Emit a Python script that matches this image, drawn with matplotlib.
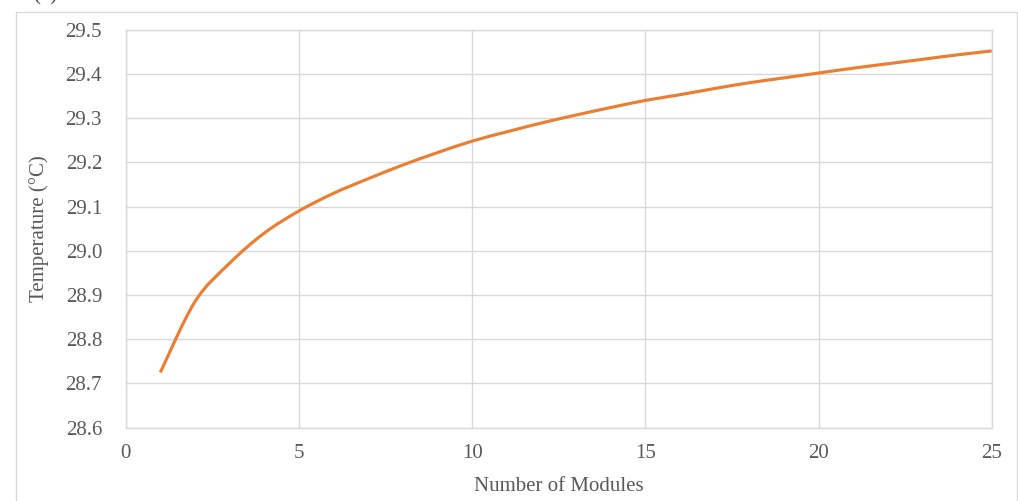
import matplotlib
matplotlib.use("Agg")
import matplotlib.pyplot as plt
from matplotlib.patches import Rectangle, PathPatch
from matplotlib.path import Path

modules = [1, 2, 3, 4, 5, 6, 7, 8, 9, 10, 11, 12, 13, 14, 15, 16, 17, 18, 19, 20, 21, 22, 23, 24, 25]
temperature = [28.725, 28.885, 28.972, 29.040, 29.090, 29.130, 29.163, 29.194, 29.222, 29.248,
               29.269, 29.289, 29.307, 29.324, 29.340, 29.353, 29.367, 29.380, 29.391, 29.402,
               29.413, 29.423, 29.433, 29.443, 29.452]
x_ticks = [0, 5, 10, 15, 20, 25]
y_ticks = [28.6, 28.7, 28.8, 28.9, 29.0, 29.1, 29.2, 29.3, 29.4, 29.5]

plt.rcParams['font.family'] = ['Liberation Serif', 'DejaVu Serif']

W, H = 1018, 501
fig = plt.figure(figsize=(W / 100, H / 100), dpi=100)
fig.patch.set_facecolor('white')

# outer chart frame
fig.patches.append(Rectangle((16 / W, -0.05), (1016.5 - 16) / W, 1.05 - 11.5 / H,
                             transform=fig.transFigure, fill=False,
                             edgecolor='#d9d9d9', linewidth=1.0))

left, right = 125.7 / W, 991.7 / W
bottom, top = 1 - 427.7 / H, 1 - 29.7 / H
ax = fig.add_axes([left, bottom, right - left, top - bottom])

ax.set_xlim(0, 25)
ax.set_ylim(28.6, 29.5)

# Excel-style smoothed line: cubic Bezier through the data points (drawn in display space)
pts = ax.transData.transform(list(zip(modules, temperature)))
n = len(pts)
verts = [pts[0]]
codes = [Path.MOVETO]
for i in range(n - 1):
    p0 = pts[i - 1] if i > 0 else pts[i]
    p1 = pts[i]
    p2 = pts[i + 1]
    p3 = pts[i + 2] if i + 2 < n else pts[i + 1]
    c1 = p1 + (p2 - p0) / 6.0
    c2 = p2 - (p3 - p1) / 6.0
    verts += [c1, c2, p2]
    codes += [Path.CURVE4] * 3
path = Path(ax.transData.inverted().transform(verts), codes)
ax.add_patch(PathPatch(path, facecolor='none', edgecolor='#ED7D31', linewidth=2.25,
                       capstyle='butt', zorder=3))

ax.set_xticks(x_ticks)
ax.set_yticks(y_ticks)
ax.set_yticklabels([f"{v:.1f}" for v in y_ticks])
ax.grid(True, color='#d9d9d9', linewidth=1.0, zorder=0)
for s in ax.spines.values():
    s.set_color('#d9d9d9')
    s.set_linewidth(1.0)
ax.tick_params(axis='both', length=0, labelsize=15, colors='#595959')
ax.tick_params(axis='y', pad=17)
ax.tick_params(axis='x', pad=12)

ax.set_xlabel('Number of Modules', fontsize=15, color='#595959', labelpad=10)
ax.set_ylabel('Temperature (°C)', fontsize=15, color='#595959', labelpad=12)

fig.text(33 / W, 1 + 4 / H, '(b)', fontsize=15, color='#404040', va='center', ha='left')

fig.savefig('out.png', dpi=100)
